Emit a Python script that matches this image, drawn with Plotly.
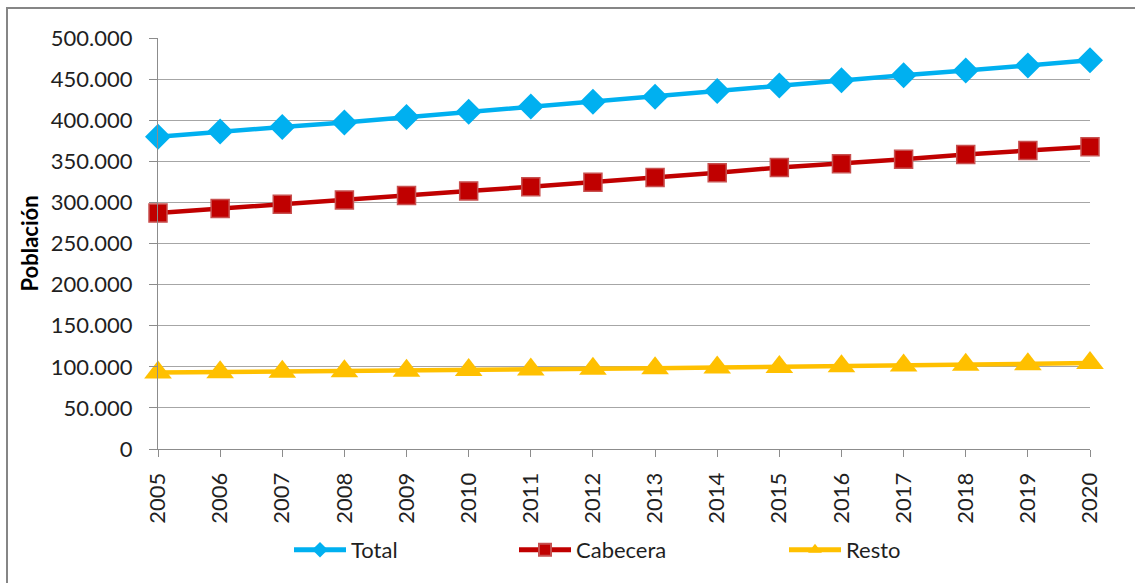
import plotly.graph_objects as go

# Población por año (habitantes)
years = [str(y) for y in range(2005, 2021)]
total = [380000, 386400, 391600, 397300, 403800, 410200, 416600, 422300,
         428600, 435600, 442300, 448500, 454600, 460400, 466600, 472800]
cabecera = [287000, 292600, 297700, 302900, 308500, 314000, 318900, 324400,
            330200, 336200, 342400, 346900, 352400, 358200, 363000, 367800]
resto = [93000, 93500, 94000, 94600, 95200, 96000, 96800, 97500,
         98200, 99000, 99800, 100600, 101600, 102400, 103200, 104500]

y_ticks = [0, 50000, 100000, 150000, 200000, 250000, 300000, 350000, 400000, 450000, 500000]

FONT = "Lato"
TXT = "#1f1f1f"
GRID = "#a6a6a6"
AXIS = "#8c8c8c"

# plot area in pixels (used to place the legends and frame)
W, H = 1135, 583
L, R, T, B = 158, 45, 38, 134
PW, PH = W - L - R, H - T - B


def px_x(px):
    return (px - L) / PW


def px_y(py):
    return (H - B - py) / PH


fig = go.Figure()

fig.add_trace(go.Scatter(
    x=years, y=total, name="Total", mode="lines+markers",
    line=dict(color="#00B0F0", width=4.5),
    marker=dict(symbol="diamond", size=20, color="#00B0F0",
                line=dict(color="#00B0F0", width=0)),
    cliponaxis=False, legend="legend", showlegend=True,
))
fig.add_trace(go.Scatter(
    x=years, y=cabecera, name="Cabecera", mode="lines+markers",
    line=dict(color="#C00000", width=4.5),
    marker=dict(symbol="square", size=18, color="#C00000",
                line=dict(color="#C8504F", width=1.5)),
    cliponaxis=False, legend="legend2", showlegend=True,
))
fig.add_trace(go.Scatter(
    x=years, y=resto, name="Resto", mode="lines+markers",
    line=dict(color="#FFC000", width=4.5),
    marker=dict(symbol="triangle-up", size=24, color="#FFC000",
                line=dict(color="#FFC000", width=0)),
    cliponaxis=False, legend="legend3", showlegend=True,
))

legend_common = dict(
    orientation="h", xanchor="left", yanchor="middle",
    font=dict(family=FONT, size=22, color=TXT),
    bgcolor="rgba(0,0,0,0)", borderwidth=0, itemwidth=52,
    itemsizing="constant", visible=True,
)

# outer chart frame
fig.add_shape(type="rect", xref="paper", yref="paper",
              x0=px_x(7), x1=px_x(W + 20), y0=px_y(H + 20), y1=px_y(8),
              line=dict(color="#868686", width=2), fillcolor="rgba(0,0,0,0)",
              layer="below")

fig.update_layout(
    width=W, height=H,
    margin=dict(l=L, r=R, t=T, b=B, autoexpand=False),
    paper_bgcolor="white", plot_bgcolor="white",
    separators=",.",
    showlegend=True,
    font=dict(family=FONT, size=22, color=TXT),
    legend=dict(x=px_x(289), y=px_y(550), **legend_common),
    legend2=dict(x=px_x(514), y=px_y(550), **legend_common),
    legend3=dict(x=px_x(784), y=px_y(550), **legend_common),
    xaxis=dict(
        type="category", range=[0, len(years) - 1],
        showgrid=False, showline=True, linecolor=AXIS, linewidth=1,
        ticks="outside", ticklen=7, tickcolor=AXIS, tickwidth=1,
        tickangle=-90, tickfont=dict(family=FONT, size=22, color=TXT),
        ticklabelstandoff=7,
    ),
    yaxis=dict(
        range=[0, 500000], tickvals=y_ticks, tickformat=",d",
        showgrid=True, gridcolor=GRID, gridwidth=1,
        showline=True, linecolor=AXIS, linewidth=1,
        ticks="outside", ticklen=8, tickcolor=AXIS, tickwidth=1,
        tickfont=dict(family=FONT, size=22, color=TXT),
        ticklabelstandoff=12, zeroline=False,
        title=dict(text="<b>Población</b>",
                   font=dict(family=FONT, size=22, color="black"),
                   standoff=6),
    ),
)

fig.write_html("out.html")
